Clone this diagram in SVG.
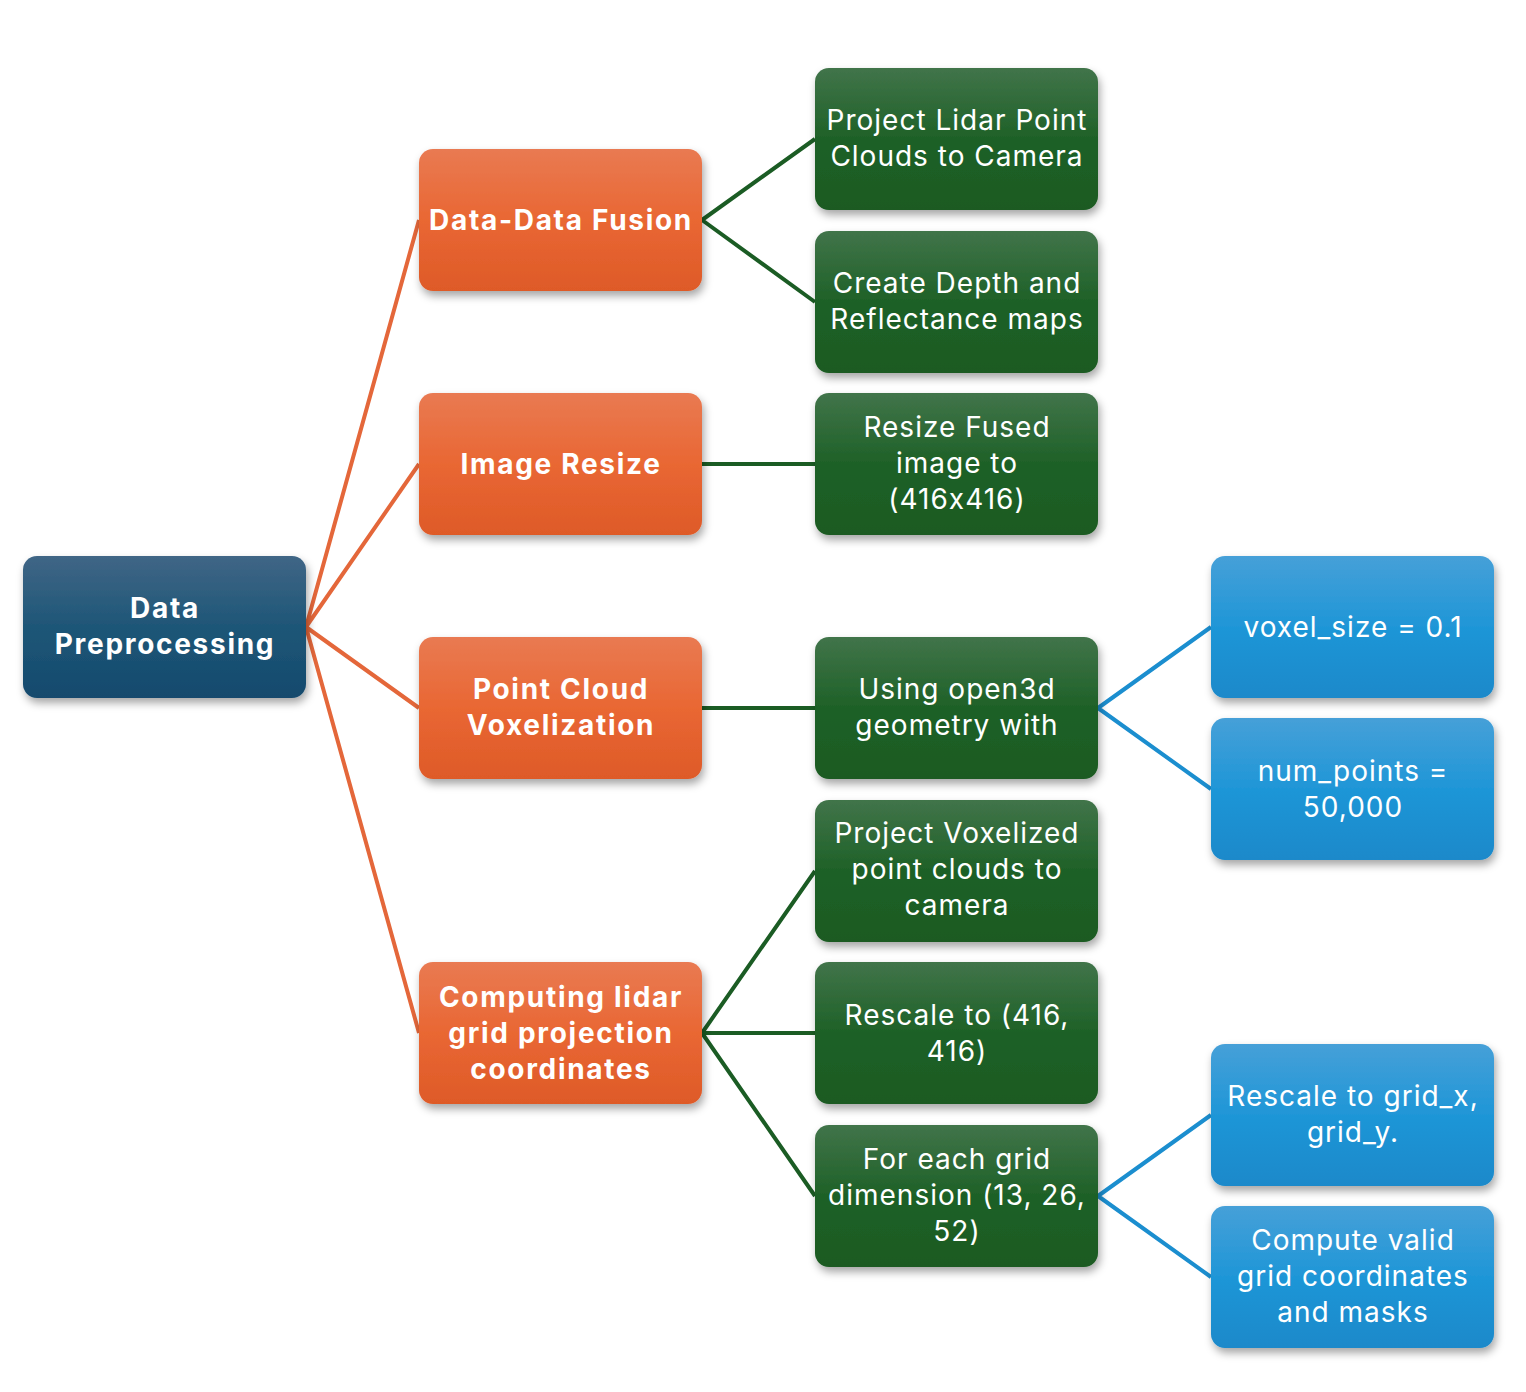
<svg xmlns="http://www.w3.org/2000/svg" width="1526" height="1392" viewBox="0 0 1526 1392">
<defs>
<linearGradient id="gRoot" x1="0" y1="0" x2="0" y2="1"><stop offset="0" stop-color="#406686"/><stop offset="0.5" stop-color="#1E5677"/><stop offset="1" stop-color="#144A6D"/></linearGradient>
<linearGradient id="gOr" x1="0" y1="0" x2="0" y2="1"><stop offset="0" stop-color="#E97A52"/><stop offset="0.5" stop-color="#E96733"/><stop offset="1" stop-color="#DE5A28"/></linearGradient>
<linearGradient id="gGr" x1="0" y1="0" x2="0" y2="1"><stop offset="0" stop-color="#41744A"/><stop offset="0.5" stop-color="#1E6127"/><stop offset="1" stop-color="#1A5A22"/></linearGradient>
<linearGradient id="gBl" x1="0" y1="0" x2="0" y2="1"><stop offset="0" stop-color="#46A0D8"/><stop offset="0.5" stop-color="#1F96D7"/><stop offset="1" stop-color="#1A89CA"/></linearGradient>
<filter id="sh" x="-10%" y="-10%" width="125%" height="130%"><feDropShadow dx="2" dy="5" stdDeviation="4" flood-color="#000" flood-opacity="0.35"/></filter>
</defs>
<style>
.n rect{filter:url(#sh);}
.t{font-family:Inter,"Open Sans",sans-serif;font-size:28px;fill:#fff;text-anchor:middle;letter-spacing:1px;font-feature-settings:"calt" 0;}
.b{font-weight:bold;letter-spacing:1.7px;}
.co{stroke:#E4673A;stroke-width:4;fill:none;}
.cg{stroke:#1B5C24;stroke-width:4;fill:none;}
.cb{stroke:#1B8ECF;stroke-width:4;fill:none;}
</style>
<rect width="1526" height="1392" fill="#fff"/>
<g id="connectors">
<path class="co" d="M306,627 L419,220 M306,627 L419,464 M306,627 L419,708 M306,627 L419,1033"/>
<path class="cg" d="M702,220 L815,139 M702,220 L815,302 M702,464 L815,464 M702,708 L815,708 M702,1033 L815,871 M702,1033 L815,1033 M702,1033 L815,1196"/>
<path class="cb" d="M1098,708 L1211,627 M1098,708 L1211,789 M1098,1196 L1211,1115 M1098,1196 L1211,1277"/>
</g>
<g id="root" class="n"><rect x="23" y="556" width="283" height="142" rx="14" fill="url(#gRoot)"/><text class="t b" x="165" y="618">Data</text><text class="t b" x="165" y="654">Preprocessing</text></g>
<g id="fusion" class="n"><rect x="419" y="149" width="283" height="142" rx="14" fill="url(#gOr)"/><text class="t b" x="561" y="230">Data-Data Fusion</text></g>
<g id="resize" class="n"><rect x="419" y="393" width="283" height="142" rx="14" fill="url(#gOr)"/><text class="t b" x="561" y="474">Image Resize</text></g>
<g id="voxel" class="n"><rect x="419" y="637" width="283" height="142" rx="14" fill="url(#gOr)"/><text class="t b" x="561" y="699">Point Cloud</text><text class="t b" x="561" y="735">Voxelization</text></g>
<g id="grid" class="n"><rect x="419" y="962" width="283" height="142" rx="14" fill="url(#gOr)"/><text class="t b" x="561" y="1007">Computing lidar</text><text class="t b" x="561" y="1043">grid projection</text><text class="t b" x="561" y="1079">coordinates</text></g>
<g id="g1" class="n"><rect x="815" y="68" width="283" height="142" rx="14" fill="url(#gGr)"/><text class="t" x="957" y="130">Project Lidar Point</text><text class="t" x="957" y="166">Clouds to Camera</text></g>
<g id="g2" class="n"><rect x="815" y="231" width="283" height="142" rx="14" fill="url(#gGr)"/><text class="t" x="957" y="293">Create Depth and</text><text class="t" x="957" y="329">Reflectance maps</text></g>
<g id="g3" class="n"><rect x="815" y="393" width="283" height="142" rx="14" fill="url(#gGr)"/><text class="t" x="957" y="437">Resize Fused</text><text class="t" x="957" y="473">image to</text><text class="t" x="957" y="509">(416x416)</text></g>
<g id="g4" class="n"><rect x="815" y="637" width="283" height="142" rx="14" fill="url(#gGr)"/><text class="t" x="957" y="699">Using open3d</text><text class="t" x="957" y="735">geometry with</text></g>
<g id="g5" class="n"><rect x="815" y="800" width="283" height="142" rx="14" fill="url(#gGr)"/><text class="t" x="957" y="843">Project Voxelized</text><text class="t" x="957" y="879">point clouds to</text><text class="t" x="957" y="915">camera</text></g>
<g id="g6" class="n"><rect x="815" y="962" width="283" height="142" rx="14" fill="url(#gGr)"/><text class="t" x="957" y="1025">Rescale to (416,</text><text class="t" x="957" y="1061">416)</text></g>
<g id="g7" class="n"><rect x="815" y="1125" width="283" height="142" rx="14" fill="url(#gGr)"/><text class="t" x="957" y="1169">For each grid</text><text class="t" x="957" y="1205">dimension (13, 26,</text><text class="t" x="957" y="1241">52)</text></g>
<g id="b1" class="n"><rect x="1211" y="556" width="283" height="142" rx="14" fill="url(#gBl)"/><text class="t" x="1353" y="637">voxel_size = 0.1</text></g>
<g id="b2" class="n"><rect x="1211" y="718" width="283" height="142" rx="14" fill="url(#gBl)"/><text class="t" x="1353" y="781">num_points =</text><text class="t" x="1353" y="817">50,000</text></g>
<g id="b3" class="n"><rect x="1211" y="1044" width="283" height="142" rx="14" fill="url(#gBl)"/><text class="t" x="1353" y="1106">Rescale to grid_x,</text><text class="t" x="1353" y="1142">grid_y.</text></g>
<g id="b4" class="n"><rect x="1211" y="1206" width="283" height="142" rx="14" fill="url(#gBl)"/><text class="t" x="1353" y="1250">Compute valid</text><text class="t" x="1353" y="1286">grid coordinates</text><text class="t" x="1353" y="1322">and masks</text></g>
</svg>
